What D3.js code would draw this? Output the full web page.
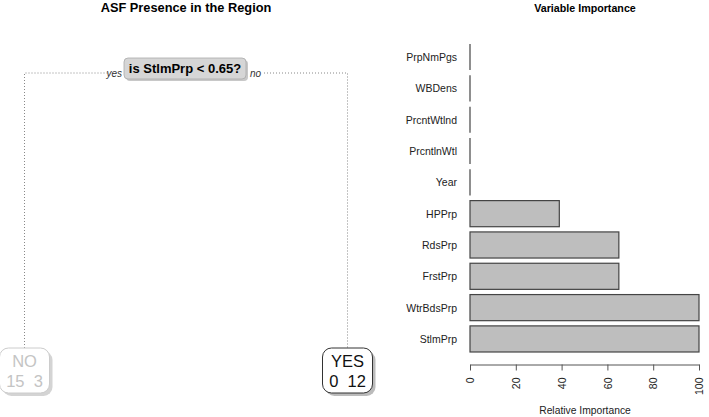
<!DOCTYPE html>
<html>
<head>
<meta charset="utf-8">
<script src="https://cdn.jsdelivr.net/npm/d3@7"></script>
<style>
  body { margin: 0; background: #fff; }
  svg { display: block; font-family: "Liberation Sans", Arial, sans-serif; }
</style>
</head>
<body>
<svg width="709" height="417"></svg>
<script>
// tree data
var splitLabel = "is StlmPrp < 0.65?";
var branchLabels = ["yes", "no"];
var leafLabels = ["NO", "YES"];
var leafCounts = [[15, 3], [0, 12]];
var leafFaded = [true, false];

// variable importance data
var variables = ["PrpNmPgs", "WBDens", "PrcntWtlnd", "PrcntlnWtl", "Year", "HPPrp", "RdsPrp", "FrstPrp", "WtrBdsPrp", "StlmPrp"];
var importance = [0, 0, 0, 0, 0, 39, 65, 65, 100, 100];
var xTicks = [0, 20, 40, 60, 80, 100];

var svg = d3.select("svg");

// ---------- left: tree ----------
svg.append("text")
  .attr("x", 186).attr("y", 12)
  .attr("text-anchor", "middle")
  .style("font-weight", "bold").style("font-size", "12.8px")
  .text("ASF Presence in the Region");

var lx = d3.scalePoint().domain(leafLabels).range([24.5, 347.5]);
var splitY = 73, leafTop = 348, leafH = 45, leafW = 50;
var cx = (lx("NO") + lx("YES")) / 2;

var tree = svg.append("g");

// dotted branches
tree.append("path")
  .attr("d", "M" + lx("NO") + "," + leafTop + "V" + splitY + "H108")
  .attr("fill", "none").attr("stroke", "#888").attr("stroke-dasharray", "1,2");
tree.append("path")
  .attr("d", "M264," + splitY + "H" + lx("YES") + "V" + leafTop)
  .attr("fill", "none").attr("stroke", "#888").attr("stroke-dasharray", "1,2");

tree.append("text")
  .attr("x", 122).attr("y", splitY + 4)
  .attr("text-anchor", "end")
  .style("font-style", "italic").style("font-size", "10px").style("fill", "#333")
  .text(branchLabels[0]);
tree.append("text")
  .attr("x", 250).attr("y", splitY + 4)
  .style("font-style", "italic").style("font-size", "10px").style("fill", "#333")
  .text(branchLabels[1]);

// split node
tree.append("rect")
  .attr("x", cx - 60).attr("y", 60).attr("width", 122).attr("height", 21)
  .attr("rx", 4).attr("fill", "#c8c8c8");
tree.append("rect")
  .attr("x", cx - 62).attr("y", 58).attr("width", 122).attr("height", 21)
  .attr("rx", 4).attr("fill", "#d6d6d6").attr("stroke", "#aaa").attr("stroke-width", 0.8);
tree.append("text")
  .attr("x", cx - 1).attr("y", 73)
  .attr("text-anchor", "middle")
  .style("font-weight", "bold").style("font-size", "13px")
  .text(splitLabel);

// leaves
var leaf = tree.selectAll(".leaf")
  .data(leafLabels)
  .enter().append("g")
    .attr("class", "leaf")
    .attr("transform", function(d) { return "translate(" + lx(d) + "," + leafTop + ")"; });

leaf.append("rect")
  .attr("x", -leafW / 2 + 3).attr("y", 3)
  .attr("width", leafW).attr("height", leafH)
  .attr("rx", 9)
  .attr("fill", function(d, i) { return leafFaded[i] ? "#d4d4d4" : "#bbb"; });
leaf.append("rect")
  .attr("x", -leafW / 2).attr("y", 0)
  .attr("width", leafW).attr("height", leafH)
  .attr("rx", 9)
  .attr("fill", "#fff")
  .attr("stroke", function(d, i) { return leafFaded[i] ? "#ccc" : "#333"; })
  .attr("stroke-width", 1);
leaf.append("text")
  .attr("x", 0).attr("y", 19)
  .attr("text-anchor", "middle")
  .style("font-size", "16.5px")
  .style("fill", function(d, i) { return leafFaded[i] ? "#c4c4c4" : "#111"; })
  .text(function(d) { return d; });
leaf.append("text")
  .attr("x", 0).attr("y", 39)
  .attr("text-anchor", "middle")
  .style("font-size", "16.5px")
  .style("white-space", "pre")
  .style("fill", function(d, i) { return leafFaded[i] ? "#c4c4c4" : "#111"; })
  .text(function(d, i) { return leafCounts[i][0] + "  " + leafCounts[i][1]; });

// ---------- right: variable importance ----------
svg.append("text")
  .attr("x", 585).attr("y", 12)
  .attr("text-anchor", "middle")
  .style("font-weight", "bold").style("font-size", "10.7px")
  .text("Variable Importance");

var x = d3.scaleLinear().domain([0, 100]).range([470, 699]);
var y = d3.scaleBand().domain(variables).range([41.4, 354.6])
  .paddingInner(1 / 6).paddingOuter(1 / 12);

var bars = svg.append("g");
bars.selectAll("rect")
  .data(variables)
  .enter().append("rect")
    .attr("x", x(0))
    .attr("y", function(d) { return y(d); })
    .attr("width", function(d, i) { return x(importance[i]) - x(0); })
    .attr("height", y.bandwidth())
    .attr("fill", "#bebebe")
    .attr("stroke", "#444")
    .attr("stroke-width", 1.2);

// zero-length bars still show their edge
bars.selectAll("line")
  .data(variables.filter(function(d, i) { return importance[i] === 0; }))
  .enter().append("line")
    .attr("x1", x(0)).attr("x2", x(0))
    .attr("y1", function(d) { return y(d); })
    .attr("y2", function(d) { return y(d) + y.bandwidth(); })
    .attr("stroke", "#444")
    .attr("stroke-width", 1.2);

svg.append("g").selectAll("text")
  .data(variables)
  .enter().append("text")
    .attr("x", 457)
    .attr("y", function(d) { return y(d) + y.bandwidth() / 2 + 4; })
    .attr("text-anchor", "end")
    .style("font-size", "10.5px")
    .style("fill", "#222")
    .text(function(d) { return d; });

var axis = svg.append("g")
  .attr("transform", "translate(0,364.5)")
  .call(d3.axisBottom(x).tickValues(xTicks).tickSize(6).tickSizeOuter(0));
axis.select(".domain").attr("stroke", "#555");
axis.selectAll(".tick line").attr("stroke", "#555");
axis.selectAll(".tick text")
  .attr("transform", "rotate(-90)")
  .attr("x", -13).attr("y", 0).attr("dy", "0.35em")
  .attr("text-anchor", "end")
  .style("font-family", "Liberation Sans, Arial, sans-serif")
  .style("font-size", "10.5px")
  .style("fill", "#222");

svg.append("text")
  .attr("x", 585).attr("y", 414)
  .attr("text-anchor", "middle")
  .style("font-size", "10.3px")
  .style("fill", "#222")
  .text("Relative Importance");
</script>
</body>
</html>
